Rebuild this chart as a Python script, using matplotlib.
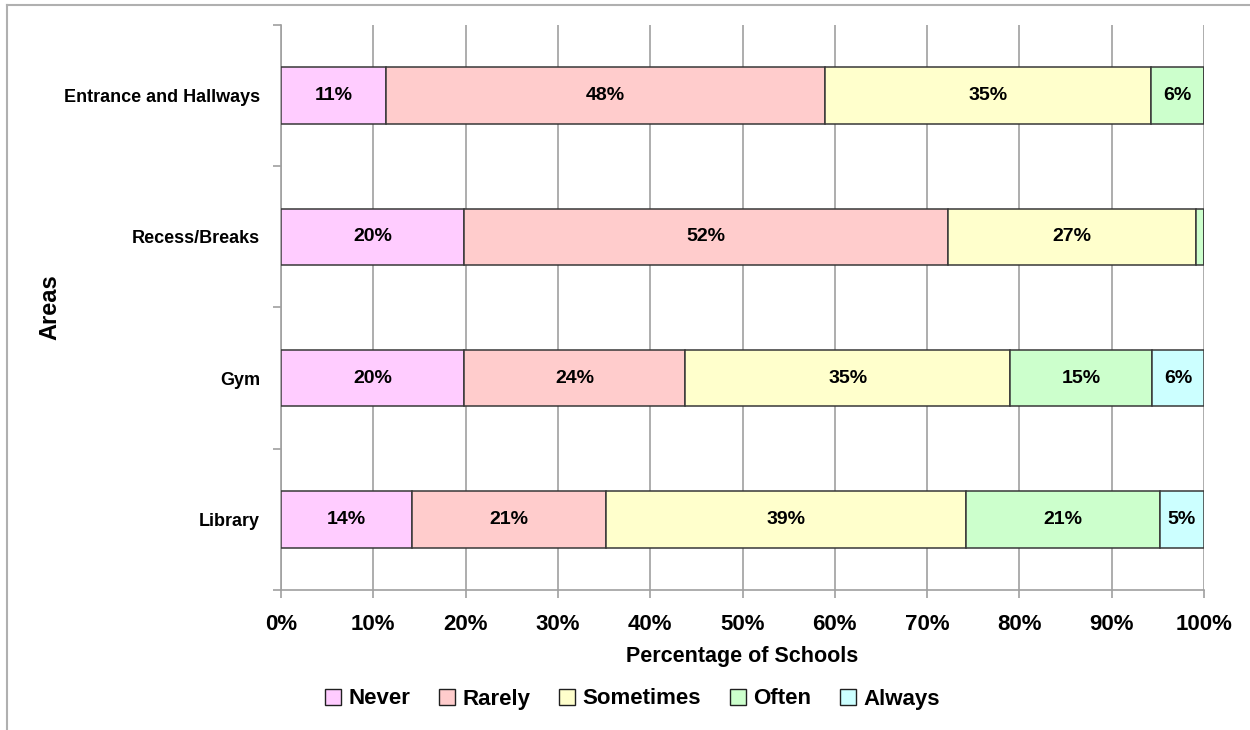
import matplotlib
matplotlib.use("Agg")
import numpy as np
import matplotlib.pyplot as plt
from matplotlib.lines import Line2D
from matplotlib.patches import Patch

plt.rcParams['font.family'] = ['Liberation Sans', 'DejaVu Sans']
plt.rcParams['font.weight'] = 'bold'

# Share of schools per area and frequency (percent)
areas = ['Entrance and Hallways', 'Recess/Breaks', 'Gym', 'Library']
levels = ['Never', 'Rarely', 'Sometimes', 'Often', 'Always']
never = [11.4, 19.8, 19.8, 14.2]
rarely = [47.5, 52.5, 24.0, 21.0]
sometimes = [35.4, 26.8, 35.2, 39.0]
often = [5.7, 0.9, 15.4, 21.0]
always = [0.0, 0.0, 5.6, 4.8]
colors = ['#FFCCFF', '#FFCCCC', '#FFFFCC', '#CCFFCC', '#CCFFFF']
xticks = np.arange(0, 101, 10)

series = [never, rarely, sometimes, often, always]

fig = plt.figure(figsize=(12.5, 7.3), dpi=100)
ax = fig.add_axes([0.2248, 0.1918, 0.7384, 0.774])

ypos = np.arange(len(areas))[::-1]
left = np.zeros(len(areas))
for name, vals, col in zip(levels, series, colors):
    vals = np.array(vals)
    ax.barh(ypos, vals, left=left, height=0.4, color=col,
            edgecolor='#383838', linewidth=1.1, zorder=3, label=name)
    for y, l, v in zip(ypos, left, vals):
        if v >= 3:
            ax.text(l + v / 2, y, f'{v:.0f}%', ha='center', va='center',
                    fontsize=14, fontweight='bold', zorder=4)
    left += vals

ax.set_xlim(0, 100)
ax.set_ylim(-0.5, len(areas) - 0.5)
ax.set_xticks(xticks)
ax.set_xticklabels([f'{t}%' for t in xticks], fontsize=16, fontweight='bold')
ax.tick_params(axis='x', length=6, width=1.2, color='#A0A0A0', pad=11)

ax.set_yticks(ypos)
ax.set_yticklabels(areas, fontsize=13, fontweight='bold')
ax.set_yticks(np.arange(-0.5, len(areas)), minor=True)
ax.tick_params(axis='y', which='major', length=0, pad=15)
ax.tick_params(axis='y', which='minor', length=6, width=1.2, color='#A0A0A0')

ax.grid(axis='x', color='#A0A0A0', linewidth=1.2, zorder=0)
ax.set_axisbelow(True)
for s in ['top', 'right']:
    ax.spines[s].set_visible(False)
for s in ['left', 'bottom']:
    ax.spines[s].set_color('#A0A0A0')
    ax.spines[s].set_linewidth(1.2)

ax.set_xlabel('Percentage of Schools', fontsize=15.5, fontweight='bold')
ax.xaxis.set_label_coords(0.5, -0.1)
ax.set_ylabel('Areas', fontsize=17, fontweight='bold')
ax.yaxis.set_label_coords(-0.238, 0.5)

handles = [Patch(facecolor=c, edgecolor='#202020', linewidth=1.0) for c in colors]
fig.legend(handles, levels, loc='center', bbox_to_anchor=(0.506, 1 - 699 / 730),
           ncol=5, frameon=False, handlelength=0.7, handleheight=0.7,
           handletextpad=0.35, columnspacing=1.3, prop={'weight': 'bold', 'size': 16})

# outer frame edges of the original screenshot
fig.add_artist(Line2D([7 / 1250, 1], [1 - 5 / 730, 1 - 5 / 730], color='#B0B0B0', linewidth=1.5))
fig.add_artist(Line2D([7 / 1250, 7 / 1250], [0, 1 - 5 / 730], color='#B0B0B0', linewidth=1.5))

fig.savefig('out.png', dpi=100)
